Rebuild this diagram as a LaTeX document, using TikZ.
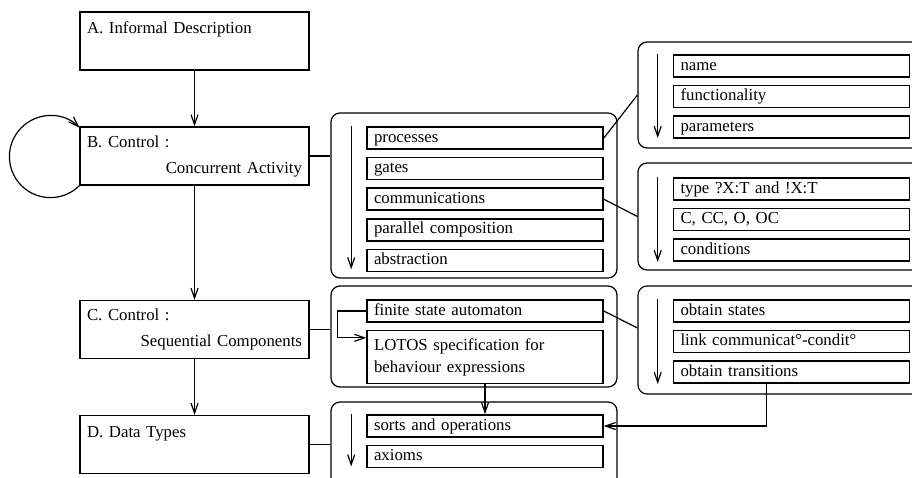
\documentclass[tikz,border=0pt]{standalone}
\usepackage{fontspec}
\setmainfont{Liberation Serif}
\usetikzlibrary{arrows.meta, positioning}
\tikzset{
  stage/.style = {rectangle, draw=black, minimum width=229pt, minimum height=58pt, text width=215pt, inner xsep=7pt, align=left, font=\fontsize{16.8}{20}\selectfont},
  group/.style = {rectangle, draw=black, rounded corners=9pt},
  entry/.style = {rectangle, draw=black, line width=1.6pt, minimum width=236pt, minimum height=22pt, text width=222pt, inner xsep=7pt, inner ysep=0pt, align=left, text height=12pt, text depth=4pt, font=\fontsize{16.8}{22}\selectfont},
  arr/.style = {-{Straight Barb[length=10pt,width=7pt]}}
}
\begin{document}
\begin{tikzpicture}[x=1pt, y=1pt, line width=1.2pt]
\useasboundingbox (0,0) rectangle (912,-477);
% Stages (left column)
\node[stage] (sA) at (194.5,-41) {A. Informal Description\\[6pt]\mbox{}};
\node[stage] (sB) at (194.5,-156) {B. Control :\\[6pt]\hspace*{\fill}Concurrent Activity};
\node[stage] (sC) at (194.5,-329.5) {C. Control :\\[6pt]\hspace*{\fill}Sequential Components};
\node[stage] (sD) at (194.5,-444.5) {D. Data Types\\[6pt]\mbox{}};

% Groups
\node[group, minimum width=286pt, minimum height=165pt] (gB) at (474,-195.5) {};
\node[group, minimum width=292pt, minimum height=106pt] (gP) at (784,-95) {};
\node[group, minimum width=292pt, minimum height=107pt] (gM) at (784,-216.5) {};
\node[group, minimum width=286pt, minimum height=101pt] (gC) at (474,-336.5) {};
\node[group, minimum width=292pt, minimum height=108pt] (gF) at (784,-340) {};
\node[group, minimum width=286pt, minimum height=88pt] (gD) at (474,-446) {};

% Group B entries
\node[entry] (procs) at (485,-138) {processes};
\node[entry, below=7pt of procs] (gates) {gates};
\node[entry, below=7pt of gates] (comm) {communications};
\node[entry, below=7pt of comm] (par) {parallel composition};
\node[entry, below=7pt of par] (abstr) {abstraction};

% Processes details
\node[entry] (pname) at (791.5,-66) {name};
\node[entry, below=7pt of pname] (pfunc) {functionality};
\node[entry, below=7pt of pfunc] (pparam) {parameters};

% Communications details
\node[entry] (ctype) at (791.5,-189) {type ?X:T and !X:T};
\node[entry, below=7pt of ctype] (ckind) {C, CC, O, OC};
\node[entry, below=7pt of ckind] (ccond) {conditions};

% Group C entries
\node[entry] (fsa) at (485,-311) {finite state automaton};
\node[entry, below=7pt of fsa, minimum height=53pt, text depth=26pt] (lotos) {LOTOS specification for\\behaviour expressions};

% Automaton details
\node[entry] (ostates) at (791.5,-311) {obtain states};
\node[entry, below=7pt of ostates] (olink) {link communicat°-condit°};
\node[entry, below=7pt of olink] (otrans) {obtain transitions};

% Group D entries
\node[entry] (sorts) at (485,-426) {sorts and operations};
\node[entry, below=7pt of sorts] (axioms) {axioms};

% ----- ARROWS -----
% Stages
\draw[arr] (sA.south) -- (sB.north);
\draw[arr] (sB.south) -- (sC.north);
\draw[arr] (sC.south) -- (sD.north);
\draw[arr] (sB.south west) arc[start angle=-45, end angle=-315, radius=41pt];
% Stages to groups
\draw (sB.east) -- (sB.east -| gB.west);
\draw (sC.east) -- (sC.east -| gC.west);
\draw (sD.east) -- (sD.east -| gD.west);
% Entries to detail groups
\draw (procs.east) -- (gP.west);
\draw (comm.east) -- (gM.west);
\draw (fsa.east) -- ([yshift=12pt]gF.west);
% Order inside groups
\draw[arr] ([xshift=-15pt]procs.north west) -- ([xshift=-15pt,yshift=3pt]abstr.south west);
\draw[arr] ([xshift=-15pt]pname.north west) -- ([xshift=-15pt,yshift=1pt]pparam.south west);
\draw[arr] ([xshift=-15pt]ctype.north west) -- ([xshift=-15pt]ccond.south west);
\draw[arr] ([xshift=-15pt]ostates.north west) -- ([xshift=-15pt]otrans.south west);
\draw[arr] ([xshift=-15pt]sorts.north west) -- ([xshift=-15pt,yshift=2pt]axioms.south west);
% Between entries
\draw[arr] (fsa.west) -- ++(-29,0) |- ([yshift=-8pt]lotos.north west);
\draw[arr] (lotos.south) -- (sorts.north);
\draw[arr] ([xshift=-25pt]otrans.south) |- (sorts.east);
\end{tikzpicture}
\end{document}
